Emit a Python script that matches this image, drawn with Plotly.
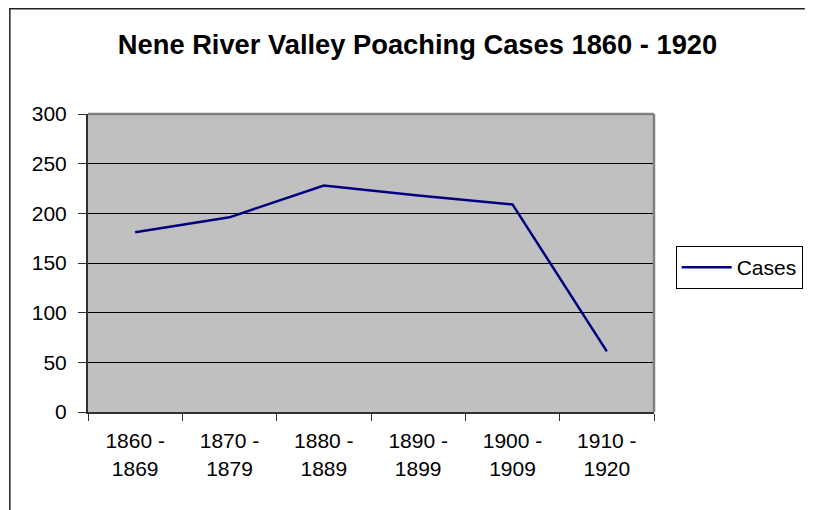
import plotly.graph_objects as go

categories = ["1860 -<br>1869", "1870 -<br>1879", "1880 -<br>1889",
              "1890 -<br>1899", "1900 -<br>1909", "1910 -<br>1920"]
cases = [181, 196, 228, 218, 209, 61]
y_ticks = [0, 50, 100, 150, 200, 250, 300]

# page body has an 8px margin, so the figure is laid out 8px smaller
W, H = 807, 502
L, R, T, B = 80, 654, 106, 404
pw, ph = R - L, B - T

def px(x):
    return (x - L) / pw

def py(y):
    return (B - y) / ph

FONT = "Arial, Liberation Sans, sans-serif"
TICK = 21

fig = go.Figure()
fig.add_trace(go.Scatter(
    x=categories, y=cases, mode="lines", name="Cases",
    line=dict(color="#000080", width=2.5),
))

fig.update_layout(
    width=W, height=H,
    margin=dict(l=L, r=W - R, t=T, b=H - B, pad=0),
    paper_bgcolor="white",
    plot_bgcolor="#C0C0C0",
    font=dict(family=FONT, size=TICK, color="black"),
    title=dict(text="<b>Nene River Valley Poaching Cases 1860 - 1920</b>",
               x=409.5 / W, xref="container", xanchor="center",
               y=1 - 36 / H, yref="container", yanchor="middle",
               font=dict(family=FONT, size=27.3, color="black")),
    showlegend=True,
    legend=dict(x=px(676), y=py(238), xanchor="left", yanchor="top",
                bordercolor="black", borderwidth=1, bgcolor="white",
                font=dict(family=FONT, size=TICK, color="black"),
                itemwidth=50, tracegroupgap=0),
    shapes=[
        # chart-area frame: only the top and left edges lie inside the view
        dict(type="line", xref="paper", yref="paper",
             x0=px(0), x1=px(W), y0=py(0.75), y1=py(0.75),
             line=dict(color="#202020", width=1.5), layer="below"),
        dict(type="line", xref="paper", yref="paper",
             x0=px(0.75), x1=px(0.75), y0=py(0), y1=py(H),
             line=dict(color="#202020", width=1.5), layer="below"),
        # plot-area border (top and right)
        dict(type="line", xref="paper", yref="paper",
             x0=0, x1=1, y0=1, y1=1,
             line=dict(color="#808080", width=2.5), layer="above"),
        dict(type="line", xref="paper", yref="paper",
             x0=1, x1=1, y0=0, y1=1,
             line=dict(color="#808080", width=2.5), layer="above"),
    ],
)

fig.update_xaxes(
    type="category", tickson="boundaries", ticks="outside", ticklen=7,
    tickcolor="#303030", showline=True, linecolor="#303030", linewidth=2,
    showgrid=False, tickfont=dict(family=FONT, size=TICK, color="black"),
    ticklabelstandoff=9, range=[-0.5, 5.5], fixedrange=True,
)
fig.update_yaxes(
    range=[0, 300], tickvals=y_ticks, ticks="outside", ticklen=8,
    tickcolor="#303030", showline=True, linecolor="#303030", linewidth=2,
    showgrid=True, gridcolor="black", gridwidth=1,
    tickfont=dict(family=FONT, size=TICK, color="black"), zeroline=False,
    ticklabelstandoff=7, fixedrange=True,
)

fig.write_html("out.html", config={"displayModeBar": False})
